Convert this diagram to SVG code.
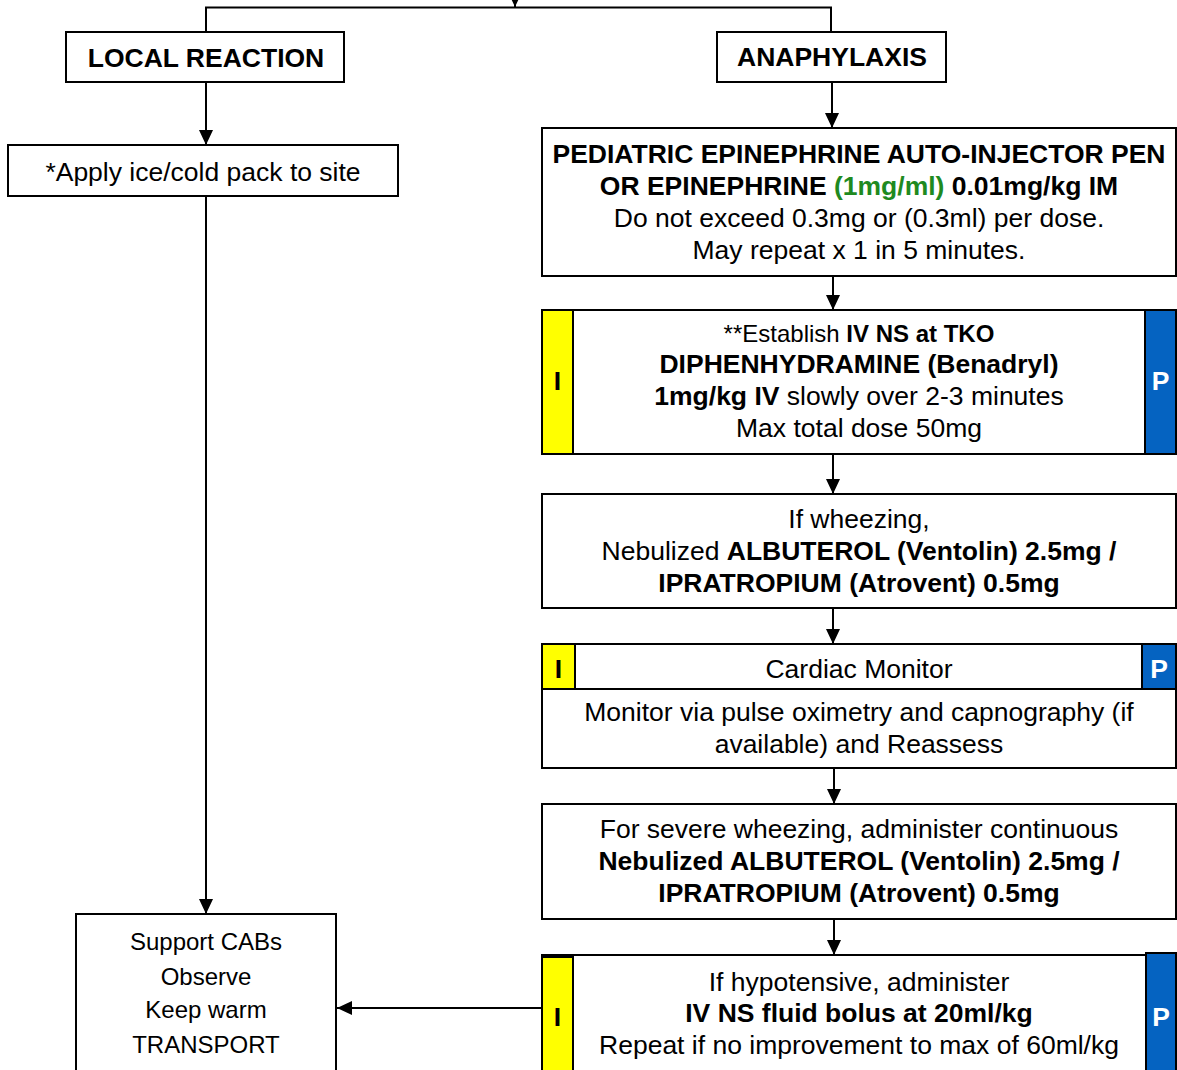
<svg xmlns="http://www.w3.org/2000/svg" width="1177" height="1070" viewBox="0 0 1177 1070">
<defs>
<style>
.box{fill:#fff;stroke:#000;stroke-width:2}
.yel{fill:#FFFF00;stroke:#000;stroke-width:2}
.blu{fill:#0563C1;stroke:#000;stroke-width:2}
.t{font-family:"Liberation Sans",Arial,sans-serif;font-size:26.5px;text-anchor:middle;fill:#000}
.s{font-size:24px}
.b{font-weight:bold}
.g{fill:#1F8A1F}
.w{fill:#fff}
.conn{stroke:#000;stroke-width:2;fill:none}
</style>
<marker id="ah" markerUnits="userSpaceOnUse" markerWidth="16" markerHeight="16" viewBox="0 0 16 16" refX="15" refY="8" orient="auto">
<path d="M0,1 L15,8 L0,15 Z" fill="#000"/>
</marker>
</defs>
<rect width="1177" height="1070" fill="#fff"/>

<g id="connectors">
<line class="conn" x1="515" y1="-20" x2="515" y2="7" marker-end="url(#ah)"/>
<polyline class="conn" points="206,32 206,7.5 831,7.5 831,32"/>
<line class="conn" x1="206" y1="82" x2="206" y2="145" marker-end="url(#ah)"/>
<line class="conn" x1="206" y1="196" x2="206" y2="914" marker-end="url(#ah)"/>
<line class="conn" x1="832" y1="82" x2="832" y2="128" marker-end="url(#ah)"/>
<line class="conn" x1="833" y1="276" x2="833" y2="310" marker-end="url(#ah)"/>
<line class="conn" x1="833" y1="454" x2="833" y2="494" marker-end="url(#ah)"/>
<line class="conn" x1="833" y1="608" x2="833" y2="644" marker-end="url(#ah)"/>
<line class="conn" x1="834" y1="768" x2="834" y2="804" marker-end="url(#ah)"/>
<line class="conn" x1="834" y1="919" x2="834" y2="955" marker-end="url(#ah)"/>
<line class="conn" x1="542" y1="1008" x2="337" y2="1008" marker-end="url(#ah)"/>
</g>

<g id="local-reaction">
<rect class="box" x="66" y="32" width="278" height="50"/>
<text class="t b" x="206" y="67">LOCAL REACTION</text>
</g>

<g id="anaphylaxis">
<rect class="box" x="717" y="32" width="229" height="50"/>
<text class="t b" x="832" y="66">ANAPHYLAXIS</text>
</g>

<g id="ice">
<rect class="box" x="8" y="145" width="390" height="51"/>
<text class="t" x="203" y="181">*Apply ice/cold pack to site</text>
</g>

<g id="support">
<rect class="box" x="76" y="914" width="260" height="170"/>
<text class="t s" x="206" y="950">Support CABs</text>
<text class="t s" x="206" y="985">Observe</text>
<text class="t s" x="206" y="1018">Keep warm</text>
<text class="t s" x="206" y="1053">TRANSPORT</text>
</g>

<g id="epinephrine">
<rect class="box" x="542" y="128" width="634" height="148"/>
<text class="t b" x="859" y="163">PEDIATRIC EPINEPHRINE AUTO-INJECTOR PEN</text>
<text class="t b" x="859" y="195">OR EPINEPHRINE <tspan class="g">(1mg/ml)</tspan> 0.01mg/kg IM</text>
<text class="t" x="859" y="227">Do not exceed 0.3mg or (0.3ml) per dose.</text>
<text class="t" x="859" y="259">May repeat x 1 in 5 minutes.</text>
</g>

<g id="diphenhydramine">
<rect class="box" x="542" y="310" width="634" height="144"/>
<rect class="yel" x="542" y="310" width="31" height="144"/>
<rect class="blu" x="1145" y="310" width="31" height="144"/>
<text class="t b" x="557.5" y="390">I</text>
<text class="t b w" x="1160.5" y="390">P</text>
<text class="t s" x="859" y="342">**Establish <tspan class="b">IV NS at TKO</tspan></text>
<text class="t b" x="859" y="373">DIPHENHYDRAMINE (Benadryl)</text>
<text class="t" x="859" y="405"><tspan class="b">1mg/kg IV</tspan> slowly over 2-3 minutes</text>
<text class="t" x="859" y="437">Max total dose 50mg</text>
</g>

<g id="wheezing">
<rect class="box" x="542" y="494" width="634" height="114"/>
<text class="t" x="859" y="528">If wheezing,</text>
<text class="t" x="859" y="560">Nebulized <tspan class="b">ALBUTEROL (Ventolin) 2.5mg /</tspan></text>
<text class="t b" x="859" y="592">IPRATROPIUM (Atrovent) 0.5mg</text>
</g>

<g id="cardiac-monitor">
<rect class="box" x="542" y="644" width="634" height="124"/>
<line class="conn" x1="542" y1="689" x2="1176" y2="689"/>
<rect class="yel" x="542" y="644" width="33" height="45"/>
<rect class="blu" x="1142" y="644" width="34" height="45"/>
<text class="t b" x="558.5" y="678">I</text>
<text class="t b w" x="1159" y="678">P</text>
<text class="t" x="859" y="678">Cardiac Monitor</text>
<text class="t" x="859" y="721">Monitor via pulse oximetry and capnography (if</text>
<text class="t" x="859" y="753">available) and Reassess</text>
</g>

<g id="severe-wheezing">
<rect class="box" x="542" y="804" width="634" height="115"/>
<text class="t" x="859" y="838">For severe wheezing, administer continuous</text>
<text class="t b" x="859" y="870">Nebulized ALBUTEROL (Ventolin) 2.5mg /</text>
<text class="t b" x="859" y="902">IPRATROPIUM (Atrovent) 0.5mg</text>
</g>

<g id="hypotensive">
<rect class="box" x="542" y="955" width="634" height="130"/>
<rect class="yel" x="542" y="957" width="31" height="130"/>
<rect class="blu" x="1146" y="953" width="30" height="130"/>
<text class="t b" x="557.5" y="1026">I</text>
<text class="t b w" x="1161" y="1026">P</text>
<text class="t" x="859" y="991">If hypotensive, administer</text>
<text class="t b" x="859" y="1022">IV NS fluid bolus at 20ml/kg</text>
<text class="t" x="859" y="1054">Repeat if no improvement to max of 60ml/kg</text>
</g>
</svg>
